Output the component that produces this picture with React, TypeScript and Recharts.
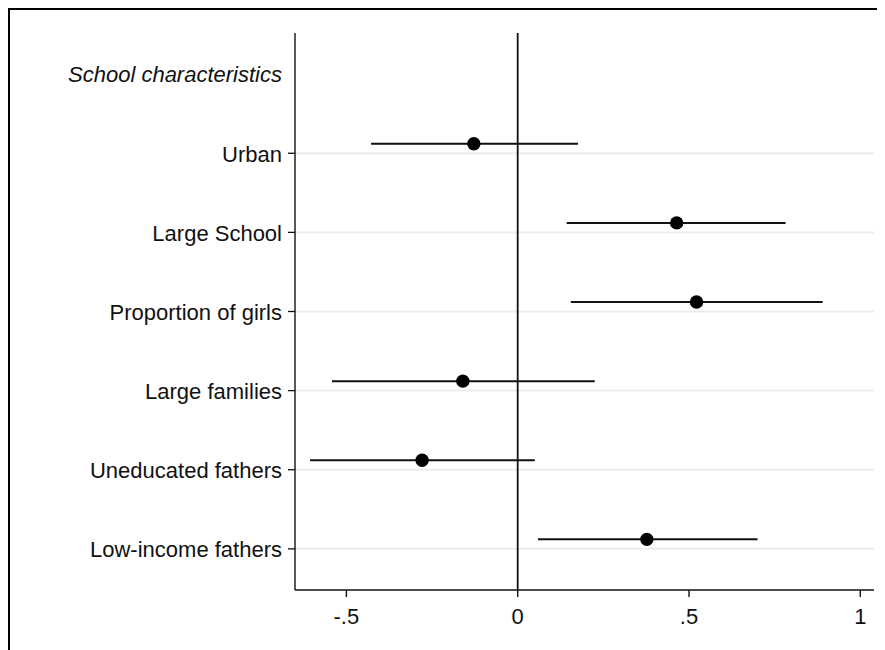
import {
  ScatterChart,
  Scatter,
  XAxis,
  YAxis,
  ErrorBar,
  ReferenceLine,
} from 'recharts';

const header = 'School characteristics';
const labels = [
  'Urban',
  'Large School',
  'Proportion of girls',
  'Large families',
  'Uneducated fathers',
  'Low-income fathers',
];
const estimates = [-0.128, 0.464, 0.522, -0.16, -0.279, 0.377];
const ciLow = [-0.428, 0.143, 0.155, -0.542, -0.606, 0.059];
const ciHigh = [0.176, 0.782, 0.89, 0.225, 0.05, 0.7];
const xTicks = [-0.5, 0, 0.5, 1];

const FONT = "'Liberation Sans', Arial, sans-serif";
const INK = '#111';
// coefplot-style offset: markers sit a little above their row
const OFFSET = 0.12;

const rows = labels.map((_, i) => i + 1);
const points = labels.map((name, i) => ({
  name,
  x: estimates[i],
  y: i + 1 - OFFSET,
  err: [estimates[i] - ciLow[i], ciHigh[i] - estimates[i]],
}));

const fmtX = (v: number) => {
  if (v === 0) return '0';
  const s = String(Math.abs(v)).replace(/^0/, '');
  return v < 0 ? '-' + s : s;
};

const YTick = (props: any) => {
  const { x, y, payload } = props;
  const v = payload.value as number;
  if (v === 0) {
    return (
      <text x={x} y={y} dy="0.35em" textAnchor="end" fontFamily={FONT} fontSize={22} fontStyle="italic" fill={INK}>
        {header}
      </text>
    );
  }
  return (
    <g>
      <line x1={x + 6} x2={x + 13} y1={y} y2={y} stroke={INK} strokeWidth={1.3} />
      <text x={x} y={y} dy="0.38em" textAnchor="end" fontFamily={FONT} fontSize={22} fill={INK}>
        {labels[v - 1]}
      </text>
    </g>
  );
};

export default function App() {
  return (
    <div
      style={{
        width: 875,
        height: 640,
        borderTop: '2px solid #000',
        borderLeft: '2px solid #000',
        background: '#fff',
      }}
    >
      <style>{'body{overflow:hidden}'}</style>
      <ScatterChart width={875} height={640} margin={{ top: 23, right: 11, left: 0, bottom: 0 }}>
        <XAxis
          type="number"
          dataKey="x"
          domain={[-0.65, 1.04]}
          allowDataOverflow
          ticks={xTicks}
          tickFormatter={fmtX}
          height={60}
          tickSize={7}
          tickMargin={11}
          axisLine={{ stroke: INK, strokeWidth: 1.4 }}
          tickLine={{ stroke: INK, strokeWidth: 1.4 }}
          tick={{ fontFamily: FONT, fontSize: 22, fill: INK }}
        />
        <YAxis
          type="number"
          dataKey="y"
          reversed
          domain={[-0.52, 6.52]}
          allowDataOverflow
          ticks={[0, ...rows]}
          width={285}
          tickSize={7}
          tickMargin={6}
          tickLine={false}
          axisLine={{ stroke: INK, strokeWidth: 1.4 }}
          tick={<YTick />}
          interval={0}
        />
        {rows.map((r) => (
          <ReferenceLine key={r} y={r} stroke="#e9eff1" strokeWidth={2} />
        ))}
        <ReferenceLine x={0} stroke={INK} strokeWidth={1.8} />
        <Scatter
          data={points}
          isAnimationActive={false}
          shape={(p: any) => <circle cx={p.cx} cy={p.cy} r={6.7} fill="#000" />}
        >
          <ErrorBar dataKey="err" direction="x" width={0} stroke={INK} strokeWidth={2} />
        </Scatter>
      </ScatterChart>
    </div>
  );
}
